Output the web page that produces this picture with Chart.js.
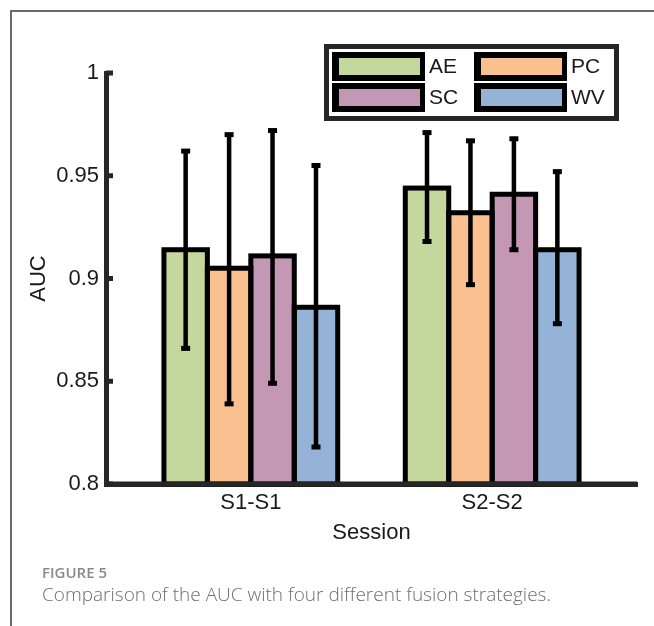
<!DOCTYPE html>
<html>
<head>
<meta charset="utf-8">
<script src="https://cdn.jsdelivr.net/npm/chart.js@4.4.1/dist/chart.umd.min.js"></script>
<style>
  body { margin: 0; background: #fff; }
  #wrap { position: relative; width: 654px; height: 626px; overflow: hidden; }
  #frame { position: absolute; left: 10px; top: 10px; width: 700px; height: 700px;
           border-left: 2px solid #6a6a6a; border-top: 2px solid #6a6a6a; }
  #chart { position: absolute; left: 0; top: 0; }
  .figno { position: absolute; left: 42px; top: 564px; font: 600 15px "Open Sans", sans-serif;
           color: #8a8a8a; line-height: 16px; }
  .caption { position: absolute; left: 42px; top: 584px; font: 300 19px "Open Sans", sans-serif;
             color: #6e6e6e; line-height: 20px; white-space: nowrap; }
</style>
</head>
<body>
<div id="wrap">
  <div id="frame"></div>
  <canvas id="chart" width="654" height="626"></canvas>
  <div class="figno">FIGURE 5</div>
  <div class="caption">Comparison of the AUC with four different fusion strategies.</div>
</div>
<script>
// sessions on the x axis, fusion strategies as the four series
const sessions = ['S1-S1', 'S2-S2'];
const methods = ['AE', 'PC', 'SC', 'WV'];
const colors = ['#C4D79C', '#FAC090', '#C497B4', '#95B3D7'];

// mean AUC
const aeMean = [0.914, 0.944];
const pcMean = [0.905, 0.932];
const scMean = [0.911, 0.941];
const wvMean = [0.886, 0.914];

// ends of the error bars
const aeLow = [0.866, 0.918], aeHigh = [0.962, 0.971];
const pcLow = [0.839, 0.897], pcHigh = [0.970, 0.967];
const scLow = [0.849, 0.914], scHigh = [0.972, 0.968];
const wvLow = [0.818, 0.878], wvHigh = [0.955, 0.952];

const yTicks = [0.8, 0.85, 0.9, 0.95, 1];
const yTickLabels = ['0.8', '0.85', '0.9', '0.95', '1'];

const means = [aeMean, pcMean, scMean, wvMean];
const lows = [aeLow, pcLow, scLow, wvLow];
const highs = [aeHigh, pcHigh, scHigh, wvHigh];

const FONT = '"Liberation Sans", Arial, sans-serif';
const AXIS = '#262626';

// bar outlines (centered on the edges like matlab), error bars, inward y ticks
const extras = {
  id: 'extras',
  afterDatasetsDraw(chart) {
    const ctx = chart.ctx;
    const ys = chart.scales.y;
    const bottom = chart.chartArea.bottom;
    ctx.save();
    ctx.strokeStyle = '#000';
    ctx.lineWidth = 5;
    ctx.lineJoin = 'miter';
    chart.data.datasets.forEach((ds, d) => {
      chart.getDatasetMeta(d).data.forEach((bar) => {
        const p = bar.getProps(['x', 'y', 'width'], true);
        ctx.strokeRect(p.x - p.width / 2, p.y, p.width, bottom - p.y);
      });
    });
    ctx.fillStyle = '#000';
    chart.data.datasets.forEach((ds, d) => {
      chart.getDatasetMeta(d).data.forEach((bar, i) => {
        const x = bar.x;
        const top = ys.getPixelForValue(ds.errHigh[i]);
        const bot = ys.getPixelForValue(ds.errLow[i]);
        ctx.lineWidth = 4.5;
        ctx.beginPath();
        ctx.moveTo(x, top);
        ctx.lineTo(x, bot);
        ctx.stroke();
        ctx.fillRect(x - 4.5, top - 2.5, 9, 5);
        ctx.fillRect(x - 4.5, bot - 2.5, 9, 5);
      });
    });
    // x axis line again so it sits over the bar bottoms
    ctx.strokeStyle = AXIS;
    ctx.lineWidth = 5;
    ctx.beginPath();
    ctx.moveTo(chart.chartArea.left, bottom);
    ctx.lineTo(chart.chartArea.right, bottom);
    ctx.stroke();
    ctx.fillStyle = AXIS;
    const left = chart.chartArea.left;
    yTicks.forEach(v => {
      const py = ys.getPixelForValue(v);
      ctx.fillRect(left, py - 2.5, 7, 5);
    });
    ctx.restore();
  },
  afterDraw(chart) {
    // legend box, 2 x 2
    const ctx = chart.ctx;
    ctx.save();
    ctx.fillStyle = '#fff';
    ctx.fillRect(326.5, 46.5, 290, 72);
    ctx.strokeStyle = AXIS;
    ctx.lineWidth = 5;
    ctx.strokeRect(326.5, 46.5, 290, 72);
    const colX = [332, 474];
    const rowY = [52, 83];
    ctx.font = '21px ' + FONT;
    ctx.textBaseline = 'middle';
    methods.forEach((m, k) => {
      const x0 = colX[k % 2];
      const y0 = rowY[Math.floor(k / 2)];
      ctx.fillStyle = '#000';
      ctx.fillRect(x0, y0, 93, 29);
      ctx.fillStyle = colors[k];
      ctx.fillRect(x0 + 7, y0 + 6, 81, 17);
      ctx.fillStyle = '#1a1a1a';
      ctx.fillText(m, x0 + 97, y0 + 15);
    });
    ctx.restore();
  }
};

const datasets = methods.map((m, k) => ({
  label: m,
  data: means[k].map((v, i) => ({ x: i + 1, y: v })),
  backgroundColor: colors[k],
  borderWidth: 0,
  errLow: lows[k],
  errHigh: highs[k]
}));

new Chart(document.getElementById('chart'), {
  type: 'bar',
  data: { datasets: datasets },
  plugins: [extras],
  options: {
    responsive: false,
    animation: false,
    layout: { padding: { top: 73, right: 17, bottom: 80, left: 26 } },
    categoryPercentage: 0.72,
    barPercentage: 1.0,
    plugins: { legend: { display: false }, tooltip: { enabled: false } },
    scales: {
      x: {
        type: 'linear',
        min: 0.4,
        max: 2.6,
        offset: false,
        afterBuildTicks: (s) => { s.ticks = sessions.map((n, i) => ({ value: i + 1 })); },
        afterFit: (s) => { s.height = 62; },
        grid: { display: false, drawTicks: false, offset: false },
        border: { display: true, width: 5, color: AXIS },
        ticks: {
          padding: 6,
          color: '#1a1a1a',
          font: { family: FONT, size: 22 },
          maxRotation: 0,
          callback: (v, i) => sessions[i]
        },
        title: { display: true, text: 'Session', color: '#1a1a1a', padding: 0,
                 font: { family: FONT, size: 22 } }
      },
      y: {
        min: 0.8,
        max: 1,
        afterBuildTicks: (s) => { s.ticks = yTicks.map(v => ({ value: v })); },
        afterFit: (s) => { s.width = 80; },
        grid: { display: false, drawTicks: false },
        border: { display: true, width: 5, color: AXIS },
        ticks: {
          padding: 7,
          color: '#1a1a1a',
          font: { family: FONT, size: 22 },
          callback: (v, i) => yTickLabels[i]
        },
        title: { display: true, text: 'AUC', color: '#1a1a1a', padding: 0,
                 font: { family: FONT, size: 22 } }
      }
    }
  }
});
</script>
</body>
</html>
